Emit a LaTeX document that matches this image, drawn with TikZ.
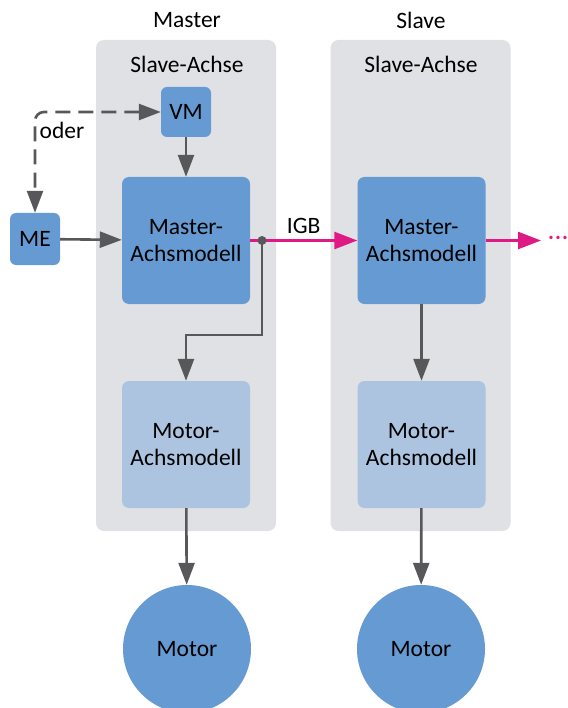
\documentclass[tikz,border=0pt]{standalone}
\usepackage{fontspec}
\setmainfont{Carlito}
\usetikzlibrary{arrows.meta}

\definecolor{axisblue}{RGB}{101,154,210}
\definecolor{motorlight}{RGB}{173,196,224}
\definecolor{panelgray}{RGB}{224,225,228}
\definecolor{linegray}{RGB}{88,88,90}
\definecolor{igbmagenta}{RGB}{224,26,132}

\tikzset{
    panel/.style={fill=panelgray, rounded corners=8pt, minimum width=180pt, minimum height=491pt},
    smallbox/.style={fill=axisblue, rounded corners=6pt, minimum width=50pt, minimum height=50pt},
    axisbox/.style={fill=axisblue, rounded corners=7pt, minimum width=128pt, minimum height=127pt, align=center},
    motorbox/.style={fill=motorlight, rounded corners=7pt, minimum width=128pt, minimum height=127pt, align=center},
    motorcircle/.style={circle, fill=axisblue, minimum size=128pt},
    flow/.style={draw=linegray, line width=2.6pt, -{Triangle[length=22pt, width=16pt]}},
    igb/.style={draw=igbmagenta, line width=2.6pt, -{Triangle[length=23pt, width=17pt]}}
}

\begin{document}
\begin{tikzpicture}[x=1pt, y=-1pt, font=\fontsize{23.5}{27}\selectfont]

    \useasboundingbox (0,0) rectangle (567,708);
    \clip (0,0) rectangle (567,708);

    \coordinate (C1)  at (186, 285.5);
    \coordinate (C2)  at (420.5, 285.5);
    \coordinate (C3)  at (186, 112);
    \coordinate (C4)  at (35, 239);
    \coordinate (C5)  at (186, 240.5);
    \coordinate (C6)  at (421.5, 240.5);
    \coordinate (C7)  at (186, 444.5);
    \coordinate (C8)  at (421.5, 444.5);
    \coordinate (C9)  at (187, 649);
    \coordinate (C10) at (421, 649);

    % panels
    \node[panel] (P1) at (C1) {};
    \node[panel] (P2) at (C2) {};

    \node (T1) at (187, 20) {Master};
    \node (T2) at (421, 20) {Slave};
    \node (S1) at (187, 64) {Slave-Achse};
    \node (S2) at (421, 64) {Slave-Achse};

    % boxes
    \node[smallbox] (VM)  at (C3)  {VM};
    \node[smallbox, minimum height=52pt] (ME) at (C4) {ME};
    \node[axisbox]  (MA1) at (C5)  {Master-\\Achsmodell};
    \node[axisbox]  (MA2) at (C6)  {Master-\\Achsmodell};
    \node[motorbox] (MO1) at (C7)  {Motor-\\Achsmodell};
    \node[motorbox] (MO2) at (C8)  {Motor-\\Achsmodell};
    \node[motorcircle] (M1) at (C9)  {Motor};
    \node[motorcircle] (M2) at (C10) {Motor};

    \coordinate (J)  at (262, 240.5);
    \coordinate (K)  at (262, 335);
    \coordinate (E)  at (541, 240.5);

    % connectors
    \draw[draw=linegray, line width=2.6pt, dash pattern=on 15pt off 8pt, rounded corners=9pt,
          {Triangle[length=22pt, width=16pt]}-{Triangle[length=22pt, width=16pt]}]
          (VM.west) -| (ME.north);
    \node (oder) at (62, 130) {oder};

    \draw[flow] (VM) -- (MA1);
    \draw[flow] (ME) -- (MA1);
    \draw[flow] (J) -- (K) -| (MO1.north);
    \draw[flow] (MO1) -- (M1);
    \draw[flow] (MA2) -- (MO2);
    \draw[flow] (MO2) -- (M2);

    \draw[igb] (MA1.east) -- (MA2.west) node[midway, above=2pt, text=black] (igblabel) {IGB};
    \fill[linegray] (J) circle (4.5pt);
    \draw[igb] (MA2.east) -- (E);
    \node[text=igbmagenta, anchor=west, inner sep=0pt] (dots) at (548, 240.5) {·\kern1pt·\kern1pt·};

\end{tikzpicture}
\end{document}
